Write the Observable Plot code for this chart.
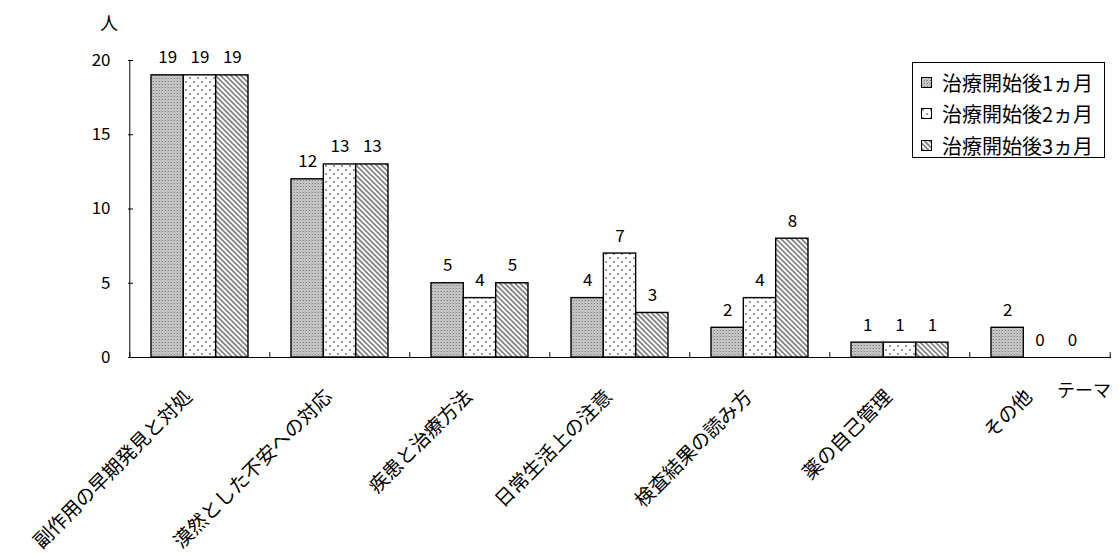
<!DOCTYPE html>
<html><head><meta charset="utf-8">
<script src="https://cdn.jsdelivr.net/npm/d3@7"></script>
<script src="https://cdn.jsdelivr.net/npm/@observablehq/plot@0.6"></script>
<style>
body{margin:0;background:#fff;}
#wrap{position:relative;width:1119px;height:558px;font-family:"Noto Sans CJK JP",sans-serif;color:#000;}
#legend{position:absolute;left:912px;top:62px;width:193px;height:96px;border:1px solid #000;background:#fff;box-sizing:border-box;}
.item{position:absolute;left:8px;height:26px;display:flex;align-items:center;font-size:20px;white-space:nowrap;}
.item svg{margin-right:10px;}
.lab{position:absolute;font-size:18px;line-height:1;white-space:nowrap;}
</style></head>
<body>
<svg width="0" height="0" style="position:absolute">
<defs>
<pattern id="p1" width="3" height="3" patternUnits="userSpaceOnUse"><rect width="3" height="3" fill="#cccccc"/><rect width="1" height="1" fill="#7c7c7c"/><rect x="1.5" y="1.5" width="1" height="1" fill="#9a9a9a"/><rect x="2" y="0" width="1" height="1" fill="#b4b4b4"/></pattern>
<pattern id="p2" width="8" height="8" patternUnits="userSpaceOnUse"><rect width="8" height="8" fill="#fff"/><circle cx="2" cy="2" r="0.75" fill="#000"/><circle cx="6" cy="6" r="0.75" fill="#000"/></pattern>
<pattern id="p3" width="3.6" height="4" patternUnits="userSpaceOnUse" patternTransform="rotate(-45)"><rect width="3.6" height="4" fill="#fff"/><line x1="1.8" y1="0" x2="1.8" y2="4" stroke="#000" stroke-width="0.9"/></pattern>
</defs>
</svg>
<div id="wrap"></div>
<script>
const topics = ["副作用の早期発見と対処","漠然とした不安への対応","疾患と治療方法","日常生活上の注意","検査結果の読み方","薬の自己管理","その他"];
const seriesNames = ["治療開始後1ヵ月","治療開始後2ヵ月","治療開始後3ヵ月"];
const month1 = [19,12,5,4,2,1,2];
const month2 = [19,13,4,7,4,1,0];
const month3 = [19,13,5,3,8,1,0];
const yTicks = [0,5,10,15,20];
const yLabel = "人";
const xLabel = "テーマ";

const seriesValues = [month1, month2, month3];
const patterns = ["url(#p1)", "url(#p2)", "url(#p3)"];
const rows = [];
seriesValues.forEach((vals, si) => vals.forEach((v, ti) => rows.push({topic: topics[ti], series: seriesNames[si], si, value: v})));

const W = 1119, H = 558, mL = 128, mR = 8, mT = 60, mB = 201;
const innerW = W - mL - mR;
const step = innerW / topics.length;
const pIn = 0.309;
const bw = step * (1 - pIn);
const w = bw / 3;

const marks = [];
marks.push(Plot.ruleX([topics[0]], {x: d => d, dx: -step / 2, y1: 0, y2: 20, stroke: "#000", strokeWidth: 1}));
marks.push(Plot.ruleY([0], {stroke: "#000", strokeWidth: 1}));
marks.push(Plot.ruleX(topics, {x: d => d, dx: -step / 2, y1: 0, y2: 0.33, stroke: "#000"}));
marks.push(Plot.ruleX([topics[topics.length - 1]], {x: d => d, dx: step / 2, y1: 0, y2: 0.33, stroke: "#000"}));
seriesNames.forEach((s, i) => {
  const data = rows.filter(d => d.si === i && d.value > 0);
  marks.push(Plot.barY(data, {x: "topic", y: "value", fill: patterns[i], stroke: "#000", strokeWidth: 1.4, insetLeft: i * w, insetRight: (2 - i) * w}));
});
seriesNames.forEach((s, i) => {
  const data = rows.filter(d => d.si === i);
  marks.push(Plot.text(data, {x: "topic", y: "value", text: d => String(d.value), dx: (i - 1) * w, dy: -12, lineAnchor: "bottom", fontSize: 17}));
});
marks.push(Plot.text(topics, {x: d => d, frameAnchor: "bottom", rotate: -45, textAnchor: "end", lineAnchor: "middle", dx: -11, dy: 36, fontSize: 19.5}));
marks.push(Plot.axisY(yTicks, {tickSize: -5, tickPadding: 23, fontSize: 17, label: null}));

const chart = Plot.plot({
  width: W, height: H,
  marginLeft: mL, marginRight: mR, marginTop: mT, marginBottom: mB,
  x: {domain: topics, type: "band", paddingInner: pIn, paddingOuter: pIn / 2, axis: null},
  y: {domain: [0, 20], axis: null, label: null},
  style: {fontFamily: '"Noto Sans CJK JP", sans-serif', color: "#000", background: "#fff", overflow: "visible"},
  marks
});
const wrap = document.getElementById("wrap");
wrap.appendChild(chart);

const yl = document.createElement("div");
yl.className = "lab"; yl.textContent = yLabel; yl.style.left = "100px"; yl.style.top = "13px";
wrap.appendChild(yl);
const xl = document.createElement("div");
xl.className = "lab"; xl.textContent = xLabel; xl.style.left = "1057px"; xl.style.top = "380px";
wrap.appendChild(xl);

const legend = document.createElement("div");
legend.id = "legend";
seriesNames.forEach((s, i) => {
  const it = document.createElement("div");
  it.className = "item";
  it.style.top = (6 + i * 31.5) + "px";
  it.innerHTML = `<svg width="11" height="11"><rect x="0.5" y="0.5" width="10" height="10" fill="${patterns[i]}" stroke="#000" stroke-width="1"/></svg><span>${s}</span>`;
  legend.appendChild(it);
});
wrap.appendChild(legend);
</script>
</body></html>
